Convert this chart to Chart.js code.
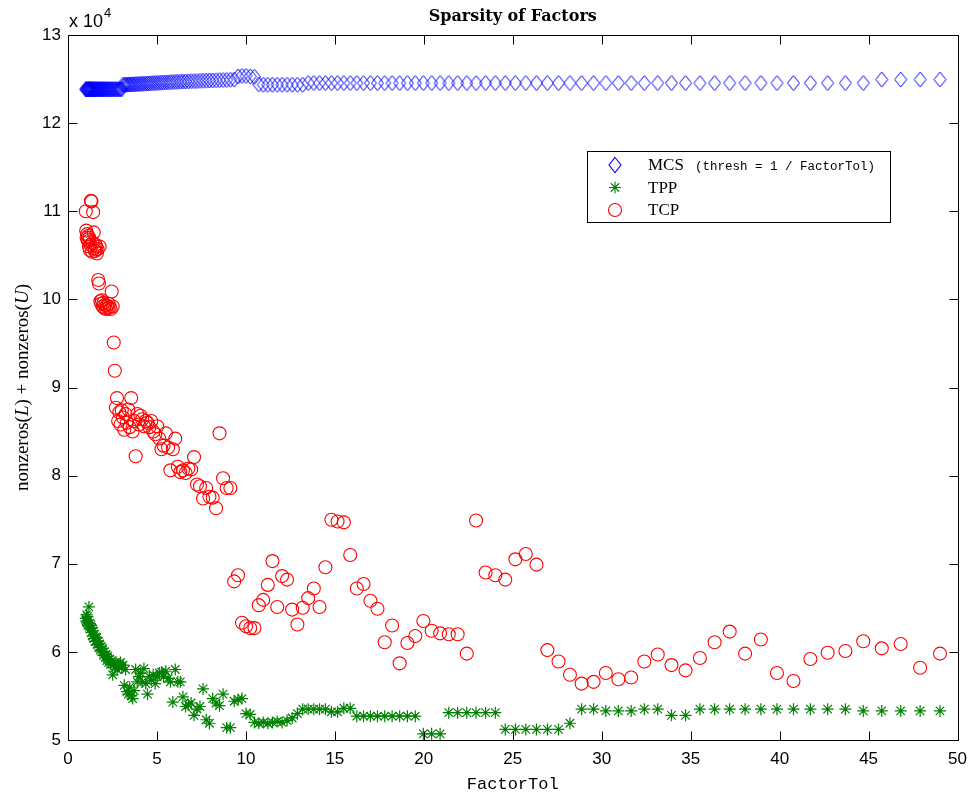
<!DOCTYPE html>
<html><head><meta charset="utf-8">
<script src="https://cdn.jsdelivr.net/npm/chart.js@4.4.1/dist/chart.umd.min.js"></script>
<style>html,body{margin:0;padding:0;background:#fff;}canvas{display:block;}</style>
</head><body>
<canvas id="c" width="976" height="798"></canvas>
<script>
// FactorTol values (x)
const factorTol = [
1.000,1.023,1.047,1.072,1.097,1.122,1.148,1.175,1.202,1.230,
1.259,1.288,1.318,1.349,1.381,1.413,1.446,1.479,1.514,1.549,
1.585,1.622,1.660,1.699,1.738,1.779,1.820,1.862,1.906,1.950,
1.996,2.042,2.090,2.138,2.188,2.239,2.291,2.345,2.399,2.455,
2.513,2.571,2.631,2.692,2.755,2.819,2.885,2.952,3.021,3.091,
3.163,3.237,3.313,3.390,3.469,3.550,3.632,3.717,3.804,3.892,
3.983,4.076,4.171,4.268,4.367,4.469,4.574,4.680,4.789,4.901,
5.014,5.131,5.251,5.373,5.498,5.627,5.758,5.892,6.029,6.170,
6.313,6.460,6.610,6.764,6.922,7.084,7.249,7.418,7.591,7.768,
7.948,8.133,8.323,8.516,8.715,8.918,9.126,9.339,9.556,9.779,
10.008,10.241,10.479,10.724,10.973,11.230,11.491,11.759,12.033,12.314,
12.600,12.894,13.194,13.502,13.816,14.139,14.469,14.806,15.151,15.504,
15.864,16.234,16.612,16.999,17.395,17.802,18.217,18.642,19.076,19.520,
19.974,20.439,20.916,21.403,21.902,22.415,22.937,23.471,24.018,24.578,
25.146,25.732,26.331,26.945,27.572,28.213,28.870,29.543,30.231,30.935,
31.656,32.394,33.148,33.921,34.711,35.518,36.345,37.192,38.058,38.945,
39.849,40.778,41.728,42.700,43.695,44.700,45.741,46.807,47.897,49.013
];
// nonzeros(L)+nonzeros(U), in units of 10^4
const mcsNnz = [
12.385,12.385,12.385,12.385,12.385,12.385,12.385,12.385,12.385,12.385,
12.385,12.385,12.385,12.385,12.385,12.385,12.385,12.385,12.385,12.385,
12.385,12.385,12.385,12.385,12.385,12.385,12.385,12.385,12.385,12.385,
12.385,12.385,12.385,12.385,12.385,12.385,12.385,12.385,12.385,12.385,
12.385,12.385,12.385,12.385,12.385,12.385,12.385,12.385,12.385,
12.435,12.435,12.436,12.437,12.438,12.439,12.440,12.440,12.441,12.442,12.443,12.444,
12.445,12.446,12.447,12.448,12.450,12.451,12.452,12.454,12.455,12.456,
12.458,12.459,12.460,12.462,12.463,12.465,12.466,12.468,12.469,12.470,
12.472,12.473,12.474,12.476,12.477,12.478,12.480,12.481,12.482,12.484,
12.485,12.486,12.488,12.489,12.490,12.492,12.494,
12.530,12.535,12.535,12.530,12.525,12.440,
12.435,12.435,12.435,12.435,12.435,12.435,12.435,12.435,12.435,
12.455,12.455,12.455,12.455,12.455,12.455,12.455,12.455,12.455,12.455,
12.455,12.455,12.455,12.455,12.455,12.455,12.455,12.455,12.455,12.455,
12.455,12.455,12.455,12.455,12.455,12.455,12.455,12.455,12.455,12.455,
12.455,12.455,12.455,12.455,12.455,12.455,12.455,12.455,12.455,12.455,
12.455,12.455,12.455,12.455,12.455,12.455,12.455,12.455,12.455,12.455,
12.455,12.455,12.455,
12.495,12.495,12.495,12.495
];
const tppNnz = [
6.38,6.35,6.42,6.33,6.40,6.30,6.36,6.51,6.28,6.32,
6.26,6.30,6.22,6.27,6.18,6.24,6.15,6.20,6.12,6.17,
6.12,6.16,6.08,6.12,6.05,6.09,6.02,6.06,
6.00,6.04,5.96,6.00,5.94,5.97,5.90,5.95,5.88,5.92,5.86,5.90,5.74,5.86,5.82,5.88,5.80,
5.86,5.84,5.88,5.82,5.85,5.62,5.80,5.55,5.52,5.60,5.50,5.47,5.56,5.80,5.66,
5.72,5.76,5.66,5.81,5.64,5.52,5.72,5.68,5.74,5.64,
5.72,5.76,5.77,5.72,5.78,5.70,5.66,5.43,5.80,5.66,5.66,
5.49,5.38,5.40,5.42,5.28,5.35,5.38,5.58,5.23,5.19,5.47,5.42,5.39,5.52,
5.14,5.14,5.44,5.46,5.47,5.30,5.29,
5.20,5.19,5.20,5.19,5.20,5.21,5.20,5.22,5.25,5.30,
5.35,5.35,5.35,5.35,5.35,
5.32,5.32,
5.36,5.36,
5.27,5.27,5.27,5.27,5.27,5.27,5.27,5.27,5.27,
5.07,5.07,5.07,
5.31,5.31,5.31,5.31,5.31,5.31,
5.12,5.12,5.12,5.12,5.12,5.12,
5.19,
5.35,5.35,5.33,5.33,5.33,5.35,5.35,5.28,5.28,
5.35,5.35,5.35,5.35,5.35,5.35,5.35,5.35,5.35,5.35,
5.33,5.33,5.33,5.33,5.33
];
const tcpNnz = [
11.00,10.78,10.70,10.74,10.68,10.72,10.66,10.60,10.70,10.56,
10.62,11.12,11.11,10.54,10.64,10.99,10.76,10.58,10.55,10.62,
10.60,10.52,10.57,10.22,10.18,10.60,9.98,9.95,9.99,9.92,
9.96,9.90,9.94,9.89,9.93,9.90,9.95,9.91,9.89,10.09,
9.92,9.51,9.19,8.77,8.88,8.62,8.72,8.58,8.74,8.66,
8.52,8.70,8.60,8.75,8.55,8.88,8.50,8.62,8.22,8.70,
8.58,8.68,8.64,8.56,8.62,8.60,8.55,8.62,8.50,8.47,
8.56,8.42,8.30,8.34,8.48,8.32,8.06,8.30,8.42,8.10,
8.04,8.06,8.03,8.08,8.07,8.21,7.90,7.88,7.74,7.86,
7.76,7.75,7.63,8.48,7.97,7.86,7.86,6.80,6.87,6.33,
6.29,6.27,6.27,6.53,6.59,6.76,7.03,6.51,6.86,6.82,
6.48,6.31,6.50,6.61,6.72,6.51,6.96,7.50,7.48,7.47,
7.10,6.72,6.77,6.58,6.49,6.11,6.30,5.87,6.10,6.18,
6.35,6.24,6.21,6.20,6.20,5.98,7.49,6.90,6.87,6.82,
7.05,7.11,6.99,6.02,5.89,5.74,5.64,5.66,5.76,5.69,
5.71,5.89,5.97,5.85,5.79,5.93,6.11,6.23,5.98,6.14,
5.76,5.67,5.92,5.99,6.01,6.12,6.04,6.09,5.82,5.98
];
const xTicks = [0,5,10,15,20,25,30,35,40,45,50];
const yTicks = [5,6,7,8,9,10,11,12,13];
const seriesNames = ['MCS','TPP','TCP'];
const legendNote = '(thresh = 1 / FactorTol)';
const titleText = 'Sparsity of Factors';
const xLabel = 'FactorTol';
const yExponent = '4';

const BLUE = '#0000ff', GREEN = '#008000', RED = '#ff0000';
function pts(ys){ return factorTol.map((x,i)=>({x:x,y:ys[i]})); }

// diamond marker image (slightly taller than wide, like MATLAB's 'd')
function diamondImage(color){
  const c=document.createElement('canvas'); c.width=15; c.height=17;
  const g=c.getContext('2d'); g.strokeStyle=color; g.lineWidth=1;
  g.beginPath(); g.moveTo(7.5,1); g.lineTo(13.5,8.5); g.lineTo(7.5,16); g.lineTo(1.5,8.5); g.closePath(); g.stroke();
  return c;
}
const diamondImg = diamondImage(BLUE);

function drawMarker(ctx, style, x, y, r, color){
  ctx.save(); ctx.strokeStyle=color; ctx.lineWidth=1.1; ctx.beginPath();
  if(style==='diamond'){ ctx.moveTo(x,y-7.5); ctx.lineTo(x+6,y); ctx.lineTo(x,y+7.5); ctx.lineTo(x-6,y); ctx.closePath(); }
  else if(style==='star'){ const d=r*0.7071; ctx.moveTo(x-r,y);ctx.lineTo(x+r,y);ctx.moveTo(x,y-r);ctx.lineTo(x,y+r);
    ctx.moveTo(x-d,y-d);ctx.lineTo(x+d,y+d);ctx.moveTo(x-d,y+d);ctx.lineTo(x+d,y-d); }
  else { ctx.arc(x,y,r,0,Math.PI*2); }
  ctx.stroke(); ctx.restore();
}

const framePlugin = {
  id:'frame',
  beforeDraw(chart){ const c=chart.ctx; c.save(); c.fillStyle='#fff'; c.fillRect(0,0,chart.width,chart.height); c.restore(); },
  afterDraw(chart){
    const ctx=chart.ctx, a=chart.chartArea, xs=chart.scales.x, ys=chart.scales.y;
    ctx.save();
    ctx.strokeStyle='#000'; ctx.lineWidth=1;
    const L=Math.round(a.left)+0.5, R=Math.round(a.right)+0.5, T=Math.round(a.top)+0.5, B=Math.round(a.bottom)+0.5;
    ctx.beginPath(); ctx.rect(L,T,R-L,B-T); ctx.stroke();
    const tl=9;
    ctx.beginPath();
    xTicks.forEach(v=>{ const p=Math.round(xs.getPixelForValue(v))+0.5; ctx.moveTo(p,B); ctx.lineTo(p,B-tl); ctx.moveTo(p,T); ctx.lineTo(p,T+tl); });
    yTicks.forEach(v=>{ const p=Math.round(ys.getPixelForValue(v))+0.5; ctx.moveTo(L,p); ctx.lineTo(L+tl,p); ctx.moveTo(R,p); ctx.lineTo(R-tl,p); });
    ctx.stroke();
    ctx.fillStyle='#000';
    // exponent
    ctx.textAlign='left'; ctx.textBaseline='alphabetic';
    ctx.font='18px "Liberation Sans", Arial, sans-serif';
    ctx.fillText('x 10', 69, 27);
    const w=ctx.measureText('x 10').width;
    ctx.font='13px "Liberation Sans", Arial, sans-serif';
    ctx.fillText(yExponent, 69+w+1, 17);
    // title
    ctx.textAlign='center';
    ctx.font='bold 16px "DejaVu Serif", serif';
    ctx.fillText(titleText, (a.left+a.right)/2, 21);
    // x label
    ctx.font='17px "Liberation Mono", "DejaVu Sans Mono", monospace';
    ctx.fillText(xLabel, (a.left+a.right)/2, 789);
    // y label (mixed fonts)
    const pieces=[['nonzeros(','n'],['L','i'],[') + nonzeros(','n'],['U','i'],[')','n']];
    const fN='19px "Liberation Serif", serif', fI='italic 19px "Liberation Serif", serif';
    let tot=0; pieces.forEach(p=>{ ctx.font=p[1]==='i'?fI:fN; tot+=ctx.measureText(p[0]).width; });
    ctx.save(); ctx.translate(28,(a.top+a.bottom)/2); ctx.rotate(-Math.PI/2); ctx.textAlign='left';
    let cx=-tot/2; pieces.forEach(p=>{ ctx.font=p[1]==='i'?fI:fN; ctx.fillText(p[0],cx,0); cx+=ctx.measureText(p[0]).width; });
    ctx.restore();
    // legend
    const bx=587, by=151, bw=303, bh=71;
    ctx.fillStyle='#fff'; ctx.fillRect(bx,by,bw,bh);
    ctx.strokeStyle='#000'; ctx.lineWidth=1; ctx.strokeRect(bx+0.5,by+0.5,bw,bh);
    const rows=[[165,'diamond',BLUE,6],[187.5,'star',GREEN,6],[210,'circle',RED,6.5]];
    rows.forEach(r=>{ drawMarker(ctx,r[1],615,r[0],r[3],r[2]); });
    ctx.fillStyle='#000'; ctx.textAlign='left'; ctx.textBaseline='middle';
    ctx.font='17px "Liberation Serif", serif';
    ctx.fillText(seriesNames[0],648,166);
    ctx.fillText(seriesNames[1],648,188.5);
    ctx.fillText(seriesNames[2],648,211);
    ctx.font='12.5px "Liberation Mono", "DejaVu Sans Mono", monospace';
    ctx.fillText(legendNote,695,167);
    ctx.restore();
  }
};

new Chart(document.getElementById('c'), {
  type:'scatter',
  data:{ datasets:[
    {label:seriesNames[0], data:pts(mcsNnz), pointStyle:diamondImg, pointRadius:7, pointHoverRadius:7, borderColor:BLUE, backgroundColor:'rgba(0,0,0,0)', borderWidth:1, showLine:false, order:3},
    {label:seriesNames[1], data:pts(tppNnz), pointStyle:'star', pointRadius:6, pointHoverRadius:6, borderColor:GREEN, backgroundColor:'rgba(0,0,0,0)', borderWidth:1.2, showLine:false, order:2},
    {label:seriesNames[2], data:pts(tcpNnz), pointStyle:'circle', pointRadius:6.5, pointHoverRadius:6.5, borderColor:RED, backgroundColor:'rgba(0,0,0,0)', borderWidth:1.1, showLine:false, order:1}
  ]},
  options:{
    responsive:false, animation:false, devicePixelRatio:1,
    layout:{padding:{top:35,right:14,left:0,bottom:0}},
    plugins:{legend:{display:false}, title:{display:false}, tooltip:{enabled:false}},
    scales:{
      x:{type:'linear', min:0, max:50, afterFit(s){s.height=58;},
        grid:{display:false, drawTicks:false}, border:{display:false},
        afterBuildTicks(s){ s.ticks = xTicks.map(v=>({value:v})); },
        ticks:{color:'#000', padding:9, maxRotation:0, autoSkip:false, font:{family:'"Liberation Sans", Arial, sans-serif', size:17}}},
      y:{type:'linear', min:5, max:13, afterFit(s){s.width=68;},
        grid:{display:false, drawTicks:false}, border:{display:false},
        afterBuildTicks(s){ s.ticks = yTicks.map(v=>({value:v})); },
        ticks:{color:'#000', padding:7, autoSkip:false, font:{family:'"Liberation Sans", Arial, sans-serif', size:17}}}
    }
  },
  plugins:[framePlugin]
});
</script>
</body></html>
